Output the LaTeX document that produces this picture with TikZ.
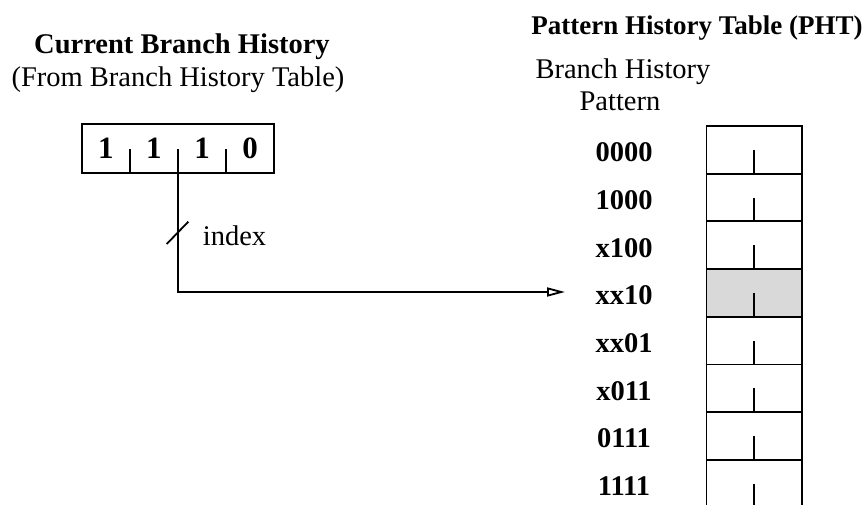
\documentclass[tikz,border=0pt]{standalone}
\usepackage{fontspec}
\setmainfont{Liberation Serif}
\usetikzlibrary{arrows.meta}

\begin{document}
\begin{tikzpicture}[x=1pt,y=1pt,line width=1.8pt,
    every node/.style={inner sep=0pt,font=\fontsize{28.5}{33}\selectfont},
    lbl/.style={anchor=base,font=\fontsize{28.5}{33}\selectfont\bfseries},
    bit/.style={anchor=base,font=\fontsize{31}{36}\selectfont\bfseries},
    hit/.style={fill=black!15}]
\useasboundingbox (0,0) rectangle (862,-505);

% headings
\node[lbl] (bhtitle) at (182,-54) {Current Branch History};
\node[anchor=base] (bhsrc) at (178,-87) {(From Branch History Table)};
\node[lbl,font=\fontsize{27}{32}\selectfont\bfseries] (phttitle) at (697,-35) {Pattern History Table (PHT)};
\node[anchor=base] (pathead) at (623,-79) {Branch History};
\node[anchor=base] (pathead2) at (620,-111) {Pattern};

% branch history register
\draw (81.7,-124) rectangle (274,-172.7);
\draw (129.8,-172.7) -- (129.8,-149);
\draw (226,-172.7) -- (226,-149);
\node[bit] (b3) at (105.8,-159) {1};
\node[bit] (b2) at (153.9,-159) {1};
\node[bit] (b1) at (202,-159) {1};
\node[bit] (b0) at (250.1,-159) {0};

% index into the PHT
\coordinate (tap) at (178,-149);
\coordinate (tip) at (565,-292);
\draw[-{Triangle[open,length=18pt,width=9pt]}] (tap) |- (tip);
\draw (166.7,-244) -- (188.3,-221.7);
\node[anchor=base west] (idx) at (202,-245) {index};

% pattern history table
\fill[hit] (706.5,-269.1) rectangle (802,-316.8);
\draw (706.5,-505) -- (706.5,-126) -- (802,-126) -- (802,-505);
\draw (706.5,-173.7) -- (802,-173.7);
\draw (706.5,-221.4) -- (802,-221.4);
\draw (706.5,-269.1) -- (802,-269.1);
\draw (706.5,-316.8) -- (802,-316.8);
\draw (706.5,-364.5) -- (802,-364.5);
\draw (706.5,-412.2) -- (802,-412.2);
\draw (706.5,-459.9) -- (802,-459.9);
\draw (754,-173.7) -- (754,-149.9);
\draw (754,-221.4) -- (754,-197.6);
\draw (754,-269.1) -- (754,-245.3);
\draw (754,-316.8) -- (754,-293);
\draw (754,-364.5) -- (754,-340.7);
\draw (754,-412.2) -- (754,-388.4);
\draw (754,-459.9) -- (754,-436.1);
\draw (754,-505) -- (754,-483.8);
\node[lbl] (p0) at (624,-161.7) {0000};
\node[lbl] (p1) at (624,-209.4) {1000};
\node[lbl] (p2) at (624,-257.1) {x100};
\node[lbl] (p3) at (624,-304.8) {xx10};
\node[lbl] (p4) at (624,-352.5) {xx01};
\node[lbl] (p5) at (624,-400.2) {x011};
\node[lbl] (p6) at (624,-447.9) {0111};
\node[lbl] (p7) at (624,-495.6) {1111};
\end{tikzpicture}
\end{document}
